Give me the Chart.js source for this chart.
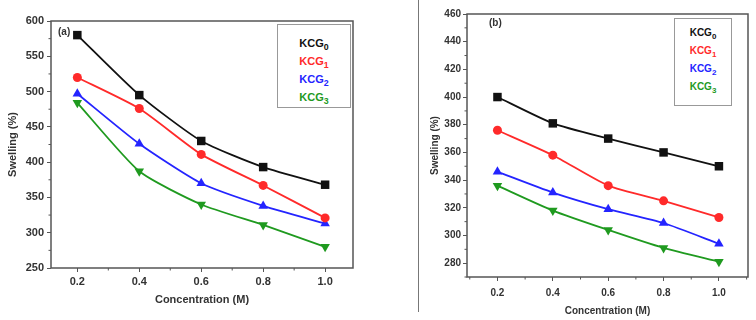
<!DOCTYPE html>
<html>
<head>
<meta charset="utf-8">
<script src="https://cdn.jsdelivr.net/npm/chart.js@4.4.0/dist/chart.umd.min.js"></script>
<style>
  html, body { margin: 0; padding: 0; background: #fff; }
  #wrap { position: relative; width: 756px; height: 320px; font-family: "Liberation Sans", Arial, sans-serif; }
  .panel { position: absolute; top: 0; height: 320px; }
  .sep { position: absolute; left: 418px; top: 0; width: 1px; height: 312px; background: #777; }
  .legend { position: absolute; background: #fff; border: 1px solid #999; box-sizing: border-box; font-weight: bold; text-align: center; }
  .legend div { line-height: 18px; }
  .legend sub { font-size: 80%; vertical-align: -3px; line-height: 0; }
  .tag { position: absolute; font-weight: bold; color: #333; }
</style>
</head>
<body>
<div id="wrap">
  <div class="panel" style="left:0;width:380px"><canvas id="chartA"></canvas></div>
  <div class="sep"></div>
  <div class="panel" style="left:420px;width:336px"><canvas id="chartB"></canvas></div>
  <div class="tag" style="left:58px;top:26px;font-size:10px">(a)</div>
  <div class="tag" style="left:489px;top:17px;font-size:10px">(b)</div>
  <div class="legend" id="legendA" style="left:277px;top:24px;width:74px;height:84px;padding-top:9px;font-size:11px"></div>
  <div class="legend" id="legendB" style="left:674px;top:18px;width:58px;height:88px;padding-top:5px;font-size:10px"></div>
</div>
<script>
// Concentration values (M) shared by both panels
const concentration = [0.2, 0.4, 0.6, 0.8, 1.0];

const seriesNames = ['KCG', 'KCG', 'KCG', 'KCG'];
const seriesSubs = ['0', '1', '2', '3'];
const seriesColors = ['#111111', '#ff2a2a', '#2424ff', '#1f9a1f'];

// panel (a)
const swellingA0 = [580, 495, 430, 393, 368];
const swellingA1 = [520, 476, 411, 367, 321];
const swellingA2 = [497, 426, 370, 338, 313];
const swellingA3 = [484, 387, 340, 311, 280];
const yTicksA = [250, 300, 350, 400, 450, 500, 550, 600];

// panel (b)
const swellingB0 = [400, 381, 370, 360, 350];
const swellingB1 = [376, 358, 336, 325, 313];
const swellingB2 = [346, 331, 319, 309, 294];
const swellingB3 = [336, 318, 304, 291, 281];
const yTicksB = [280, 300, 320, 340, 360, 380, 400, 420, 440, 460];

const xTicks = concentration;

const markers = [
  { style: 'rect', radius: 6, rotation: 0 },
  { style: 'circle', radius: 4.5, rotation: 0 },
  { style: 'triangle', radius: 5.5, rotation: 0 },
  { style: 'triangle', radius: 5.5, rotation: 180 }
];

function buildLegend(id) {
  const box = document.getElementById(id);
  seriesNames.forEach((name, i) => {
    const row = document.createElement('div');
    row.style.color = seriesColors[i];
    row.innerHTML = name + '<sub>' + seriesSubs[i] + '</sub>';
    box.appendChild(row);
  });
}

// frame around plot area plus minor ticks
const framePlugin = {
  id: 'frame',
  afterDraw(chart) {
    const { ctx, chartArea: a, scales } = chart;
    ctx.save();
    ctx.strokeStyle = '#555';
    ctx.lineWidth = 1.5;
    ctx.strokeRect(a.left, a.top, a.right - a.left, a.bottom - a.top);
    ctx.lineWidth = 1;
    const x = scales.x, y = scales.y;
    const minor = (ticks) => {
      const out = [];
      for (let i = 0; i < ticks.length - 1; i++) out.push((ticks[i].value + ticks[i + 1].value) / 2);
      const step = ticks[1].value - ticks[0].value;
      out.push(ticks[0].value - step / 2, ticks[ticks.length - 1].value + step / 2);
      return out;
    };
    minor(x.ticks).forEach(v => {
      if (v < x.min || v > x.max) return;
      const px = x.getPixelForValue(v);
      ctx.beginPath(); ctx.moveTo(px, a.bottom); ctx.lineTo(px, a.bottom + 2.5); ctx.stroke();
    });
    minor(y.ticks).forEach(v => {
      if (v < y.min || v > y.max) return;
      const py = y.getPixelForValue(v);
      ctx.beginPath(); ctx.moveTo(a.left, py); ctx.lineTo(a.left - 2.5, py); ctx.stroke();
    });
    ctx.restore();
  }
};

function makeChart(canvasId, series, cfg) {
  const datasets = series.map((vals, i) => ({
    label: seriesNames[i] + seriesSubs[i],
    data: vals.map((v, j) => ({ x: concentration[j], y: v })),
    borderColor: seriesColors[i],
    backgroundColor: seriesColors[i],
    borderWidth: 1.8,
    pointStyle: markers[i].style,
    pointRadius: markers[i].radius,
    pointRotation: markers[i].rotation,
    pointBorderWidth: 0,
    tension: 0.2
  }));

  return new Chart(document.getElementById(canvasId), {
    type: 'line',
    data: { datasets },
    plugins: [framePlugin],
    options: {
      responsive: true,
      maintainAspectRatio: false,
      animation: false,
      layout: { padding: cfg.padding },
      plugins: { legend: { display: false }, tooltip: { enabled: false } },
      scales: {
        x: {
          type: 'linear',
          min: cfg.xMin, max: cfg.xMax,
          afterBuildTicks: s => { s.ticks = xTicks.map(v => ({ value: v })); },
          afterFit: s => { s.height = cfg.xHeight; },
          border: { display: false },
          grid: { drawOnChartArea: false, tickLength: 4, tickColor: '#555', tickWidth: 1 },
          ticks: {
            padding: cfg.xPad, color: '#333',
            font: { family: 'Liberation Sans, Arial', size: cfg.tickSize, weight: 'bold' },
            callback: v => Number(v).toFixed(1)
          },
          title: {
            display: true, text: 'Concentration (M)', color: '#333',
            font: { family: 'Liberation Sans, Arial', size: cfg.titleSize, weight: 'bold' },
            padding: { top: 0, bottom: cfg.xTitlePad }
          }
        },
        y: {
          min: cfg.yMin, max: cfg.yMax,
          afterBuildTicks: s => { s.ticks = cfg.yTicks.map(v => ({ value: v })); },
          afterFit: s => { s.width = cfg.yWidth; },
          border: { display: false },
          grid: { drawOnChartArea: false, tickLength: 4, tickColor: '#555', tickWidth: 1 },
          ticks: {
            padding: cfg.yPad, color: '#333',
            font: { family: 'Liberation Sans, Arial', size: cfg.tickSize, weight: 'bold' }
          },
          title: {
            display: true, text: 'Swelling (%)', color: '#333',
            font: { family: 'Liberation Sans, Arial', size: cfg.titleSize, weight: 'bold' },
            padding: { top: cfg.yTitlePad, bottom: 0 }
          }
        }
      }
    }
  });
}

buildLegend('legendA');
buildLegend('legendB');

makeChart('chartA', [swellingA0, swellingA1, swellingA2, swellingA3], {
  padding: { left: 0, right: 27, top: 21, bottom: 0 },
  xMin: 0.115, xMax: 1.09, yMin: 250, yMax: 600, yTicks: yTicksA,
  xHeight: 52, yWidth: 51, xPad: 3, yPad: 3, tickSize: 11, titleSize: 11,
  xTitlePad: 13, yTitlePad: 6
});

makeChart('chartB', [swellingB0, swellingB1, swellingB2, swellingB3], {
  padding: { left: 0, right: 8, top: 14, bottom: 0 },
  xMin: 0.09, xMax: 1.105, yMin: 270, yMax: 460, yTicks: yTicksB,
  xHeight: 43, yWidth: 47, xPad: 6, yPad: 2, tickSize: 10, titleSize: 10,
  xTitlePad: 3, yTitlePad: 9
});
</script>
</body>
</html>
